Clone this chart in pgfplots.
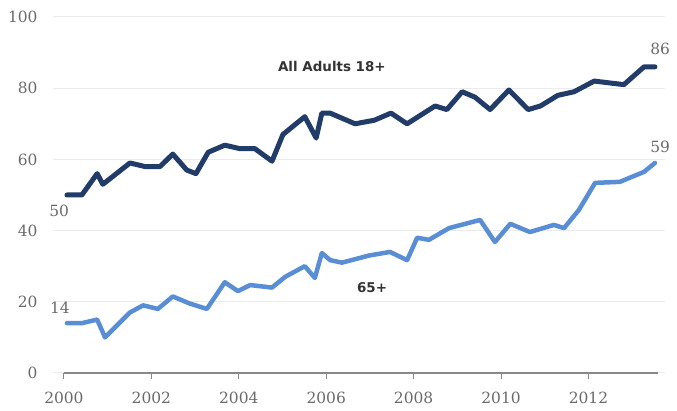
\documentclass[border=0pt]{standalone}
\usepackage{fontspec}
\setmainfont{DejaVu Serif}
\newfontfamily\labelfont{DejaVu Sans}
\usepackage{pgfplots}
\pgfplotsset{compat=1.18}
\definecolor{adultc}{HTML}{223C6A}
\definecolor{seniorc}{HTML}{5A8ED4}
\definecolor{tickc}{HTML}{6A6A6A}
\definecolor{gridc}{HTML}{EBEBEB}
\begin{document}
\begin{tikzpicture}
\path[use as bounding box] (0,0) rectangle (677bp,411bp);
\begin{axis}[
  at={(53bp,38bp)}, anchor=south west,
  scale only axis, width=612bp, height=356bp,
  xmin=-0.25, xmax=13.75, ymin=0, ymax=100,
  axis line style={draw=none},
  xtick={0,2,4,6,8,10,12},
  xticklabels={2000,2002,2004,2006,2008,2010,2012},
  ytick={0,20,40,60,80,100},
  xtick pos=bottom, ytick pos=left,
  tick align=outside,
  major tick length=6bp,
  x tick style={draw=tickc!80, line width=1bp},
  y tick style={draw=none},
  ymajorgrids, major grid style={draw=gridc, line width=1bp},
  /pgf/number format/assume math mode=true,
  tick label style={font=\fontsize{15.5}{18}\selectfont, text=tickc},
  yticklabel style={xshift=-6bp},
  xticklabel style={yshift=-10bp},
  clip=false,
]
\draw[draw=tickc!80, line width=1.2bp] (axis cs:0,0) -- (axis cs:13.6,0);
\addplot[color=adultc, line width=5bp, line join=round, line cap=round] coordinates {
(0.07,50) (0.41,50) (0.76,56) (0.89,53) (1.51,59) (1.85,58)
(2.20,58) (2.49,61.5) (2.81,57) (3.02,56) (3.30,62) (3.68,64)
(4.03,63) (4.37,63) (4.76,59.5) (5.01,67) (5.51,72) (5.77,66)
(5.90,73) (6.09,73) (6.66,70) (7.10,71) (7.48,73) (7.85,70)
(8.49,75) (8.76,74) (9.11,79) (9.40,77.5) (9.75,74) (10.18,79.5)
(10.62,74) (10.90,75) (11.30,78) (11.67,79) (12.13,82) (12.81,81)
(13.27,86) (13.52,86)
};
\addplot[color=seniorc, line width=4.5bp, line join=round, line cap=round] coordinates {
(0.07,14) (0.41,14) (0.76,15) (0.94,10) (1.51,17) (1.81,19)
(2.15,18) (2.49,21.5) (2.88,19.5) (3.27,18) (3.68,25.5) (3.98,23)
(4.26,24.7) (4.76,24) (5.06,27) (5.51,30) (5.74,26.7) (5.90,33.7)
(6.09,31.7) (6.36,31) (6.98,33) (7.46,34) (7.85,31.7) (8.08,38)
(8.35,37.4) (8.81,40.7) (9.52,43) (9.86,36.8) (10.21,41.9) (10.66,39.6)
(11.21,41.6) (11.44,40.7) (11.78,45.8) (12.15,53.4) (12.72,53.7) (13.27,56.5)
(13.52,59)
};
\node[font=\fontsize{15.5}{18}\selectfont, text=tickc] at (axis cs:-0.11,45.5) {50};
\node[font=\fontsize{15.5}{18}\selectfont, text=tickc] at (axis cs:-0.09,18.3) {14};
\node[font=\fontsize{15.5}{18}\selectfont, text=tickc] at (axis cs:13.64,91) {86};
\node[font=\fontsize{15.5}{18}\selectfont, text=tickc] at (axis cs:13.64,63.5) {59};
\node[font=\labelfont\bfseries\fontsize{13.5}{16}\selectfont, text=black!80] at (axis cs:6.13,86.2) {All Adults 18+};
\node[font=\labelfont\bfseries\fontsize{13.5}{16}\selectfont, text=black!80] at (axis cs:7.05,23.9) {65+};
\end{axis}
\end{tikzpicture}
\end{document}
